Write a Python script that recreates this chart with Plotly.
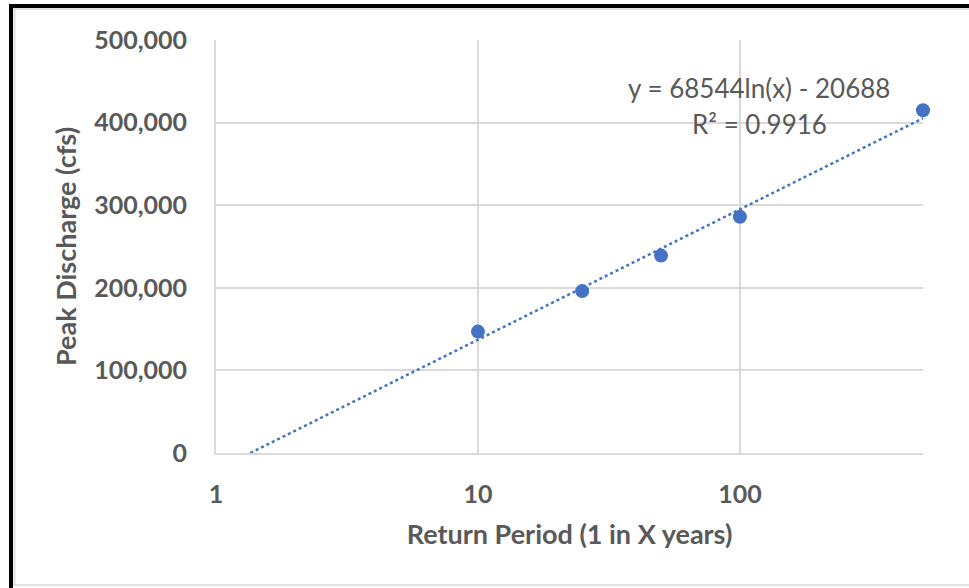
import math
import plotly.graph_objects as go

# ---- data ----
return_period = [10, 25, 50, 100, 500]
peak_discharge = [147000, 196000, 239000, 286000, 415000]
trend_slope = 68544
trend_intercept = -20688
r_squared = 0.9916
x_ticks = [1, 10, 100]
x_tick_labels = ["1", "10", "100"]
y_ticks = [0, 100000, 200000, 300000, 400000, 500000]
x_max = 500

# ---- layout geometry ----
W, H = 969, 588
ML, MR, MT, MB = 216, 46, 40, 135
PW, PH = W - ML - MR, H - MT - MB


def px_x(p):
    return (p - ML) / PW


def px_y(p):
    return (H - MB - p) / PH


GREY_TXT = "#595959"
BLUE = "#4472C4"
GRID = "#D9D9D9"
FONT = "Lato"

# trendline from the displayed fit: y = a ln(x) + b, from y=0 to x_max
x_root = math.exp(-trend_intercept / trend_slope)
trend_x = [x_root, x_max]
trend_y = [trend_slope * math.log(v) + trend_intercept for v in trend_x]

fig = go.Figure()
fig.add_trace(go.Scatter(
    x=trend_x, y=trend_y, mode="lines",
    line=dict(color=BLUE, width=2.5, dash="dot"),
    hoverinfo="skip", showlegend=False,
))
fig.add_trace(go.Scatter(
    x=return_period, y=peak_discharge, mode="markers",
    marker=dict(color=BLUE, size=14),
    cliponaxis=False, showlegend=False,
))

tick_font = dict(family=FONT, size=25, color=GREY_TXT, weight="bold")

fig.update_xaxes(
    type="log", range=[0, math.log10(x_max)],
    tickvals=x_ticks, ticktext=x_tick_labels,
    showgrid=True, gridcolor=GRID, gridwidth=2,
    showline=True, linecolor=GRID, linewidth=2,
    zeroline=False, ticks="", ticklabelstandoff=18,
    tickfont=tick_font,
    title=dict(text="Return Period (1 in X years)",
               font=dict(family=FONT, size=27, color=GREY_TXT, weight="bold"), standoff=18),
)
fig.update_yaxes(
    range=[0, 500000], tickvals=y_ticks, tickformat=",",
    showgrid=True, gridcolor=GRID, gridwidth=2,
    showline=True, linecolor=GRID, linewidth=2,
    zeroline=False, ticks="", ticklabelstandoff=22,
    tickfont=tick_font,
    title=dict(text="Peak Discharge (cfs)",
               font=dict(family=FONT, size=27, color=GREY_TXT, weight="bold"), standoff=10),
)

eq_text = f"y = {trend_slope}ln(x) - {abs(trend_intercept)}"
r2_text = f"R² = {r_squared}"
ann_font = dict(family=FONT, size=26, color=GREY_TXT)
annotations = [
    dict(text=eq_text, x=px_x(759), y=px_y(88), xref="paper", yref="paper",
         xanchor="center", yanchor="middle", showarrow=False, font=ann_font),
    dict(text=r2_text, x=px_x(759), y=px_y(124), xref="paper", yref="paper",
         xanchor="center", yanchor="middle", showarrow=False, font=ann_font),
]

shapes = [
    # black outer frame (top & left)
    dict(type="rect", xref="paper", yref="paper", x0=px_x(9), x1=px_x(W), y0=px_y(4), y1=px_y(8),
         fillcolor="black", line=dict(width=0), layer="above"),
    dict(type="rect", xref="paper", yref="paper", x0=px_x(9), x1=px_x(13), y0=px_y(4), y1=px_y(H),
         fillcolor="black", line=dict(width=0), layer="above"),
    # light inner border
    dict(type="line", xref="paper", yref="paper", x0=px_x(14.5), x1=px_x(14.5), y0=px_y(9), y1=px_y(585),
         line=dict(color="#E0E0E0", width=2), layer="above"),
    dict(type="line", xref="paper", yref="paper", x0=px_x(13), x1=px_x(W), y0=px_y(9), y1=px_y(9),
         line=dict(color="#E0E0E0", width=2), layer="above"),
    dict(type="line", xref="paper", yref="paper", x0=px_x(13), x1=px_x(W), y0=px_y(585), y1=px_y(585),
         line=dict(color="#E0E0E0", width=2), layer="above"),
]

fig.update_layout(
    width=W, height=H,
    margin=dict(l=ML, r=MR, t=MT, b=MB, autoexpand=False),
    paper_bgcolor="white", plot_bgcolor="white",
    font=dict(family=FONT, color=GREY_TXT),
    annotations=annotations, shapes=shapes,
)

fig.write_html(
    "out.html",
    config={"displayModeBar": False},
    post_script="document.body.style.margin='0';document.body.style.overflow='hidden';",
)
